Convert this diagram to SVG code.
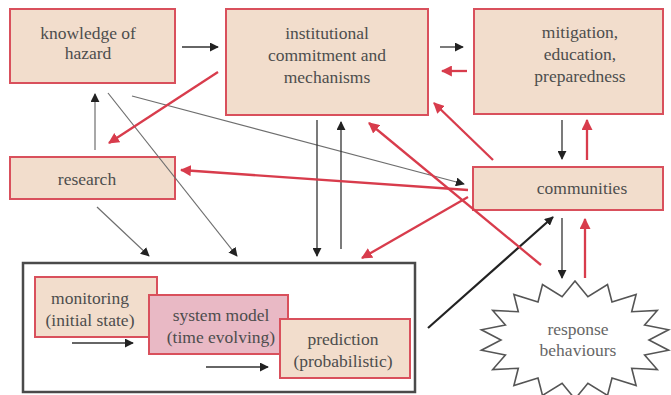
<svg xmlns="http://www.w3.org/2000/svg" width="671" height="395" viewBox="0 0 671 395">
  <defs>
    <style>
      .box { fill: #f2ddcc; stroke: #d9505c; stroke-width: 2; }
      .pink { fill: #e9b9c5; stroke: #d9505c; stroke-width: 2; }
      .frame { fill: #ffffff; stroke: #4a4a4a; stroke-width: 2.5; }
      .star { fill: #ffffff; stroke: #555555; stroke-width: 1.6; stroke-linejoin: miter; }
      text { font-family: 'Liberation Serif', 'Times New Roman', serif; font-size: 17.5px; fill: #4d4d4d; text-anchor: middle; }
      .soft { fill: #666666; }
      .k { stroke: #333333; stroke-width: 1.3; fill: none; }
      .g { stroke: #6e6e6e; stroke-width: 1.2; fill: none; }
      .lg { stroke: #a8a8a8; stroke-width: 2; fill: none; }
      .r { stroke: #d83c4c; stroke-width: 2.3; fill: none; }
      .kb { stroke: #222222; stroke-width: 2.2; fill: none; }
    </style>
    <marker id="ak" viewBox="0 0 10 10" refX="9" refY="5" markerWidth="9" markerHeight="9" markerUnits="userSpaceOnUse" orient="auto">
      <path d="M0,0 L10,5 L0,10 z" fill="#222222"/>
    </marker>
    <marker id="ar" viewBox="0 0 10 10" refX="9" refY="5" markerWidth="11" markerHeight="11" markerUnits="userSpaceOnUse" orient="auto">
      <path d="M0,0 L10,5 L0,10 z" fill="#d83c4c"/>
    </marker>
  </defs>

  <rect width="671" height="395" fill="#ffffff"/>

  <!-- modelling frame with its three stages -->
  <g id="modelling">
    <rect class="frame" x="23" y="263" width="392" height="129"/>
    <g id="monitoring">
      <rect class="box" x="35" y="277" width="122" height="60"/>
      <text x="90" y="304">monitoring</text>
      <text x="90" y="326">(initial state)</text>
    </g>
    <g id="system-model">
      <rect class="pink" x="149" y="295" width="139" height="59"/>
      <text x="221" y="321">system model</text>
      <text x="221" y="343">(time evolving)</text>
    </g>
    <g id="prediction">
      <rect class="box" x="280" y="319" width="130" height="59"/>
      <text x="343" y="345">prediction</text>
      <text x="343" y="367">(probabilistic)</text>
    </g>
  </g>

  <g id="knowledge">
    <rect class="box" x="10" y="9" width="165" height="74"/>
    <text x="88" y="39">knowledge of</text>
    <text x="88" y="59">hazard</text>
  </g>

  <g id="institutional">
    <rect class="box" x="226" y="9" width="202" height="106"/>
    <text x="327" y="39">institutional</text>
    <text x="327" y="61">commitment and</text>
    <text x="327" y="83">mechanisms</text>
  </g>

  <g id="mitigation">
    <rect class="box" x="474" y="9" width="189" height="105"/>
    <text x="580" y="38">mitigation,</text>
    <text x="580" y="60">education,</text>
    <text x="580" y="82">preparedness</text>
  </g>

  <g id="research">
    <rect class="box" x="10" y="157" width="165" height="42"/>
    <text x="87" y="185">research</text>
  </g>

  <g id="communities">
    <rect class="box" x="473" y="167" width="190" height="43"/>
    <text x="582" y="194">communities</text>
  </g>

  <g id="response">
    <polygon class="star" points="575,281 587.9,296.7 607.5,284.6 612,301.9 636.1,294.5 631.7,311.7 657.3,310.5 644.6,325 668.6,329.8 649,340 668.6,350.2 644.6,355 657.3,369.5 631.7,368.3 636.1,385.5 612,378.1 607.5,395.4 587.9,383.3 575,399 562.1,383.3 542.5,395.4 538,378.1 513.9,385.5 518.3,368.3 492.7,369.5 505.4,355 481.4,350.2 501,340 481.4,329.8 505.4,325 492.7,310.5 518.3,311.7 513.9,294.5 538,301.9 542.5,284.6 562.1,296.7"/>
    <text class="soft" x="578" y="335">response</text>
    <text class="soft" x="578" y="356">behaviours</text>
  </g>

  <g id="connectors">
    <!-- black / grey flows -->
    <line class="k" x1="182" y1="47" x2="218" y2="47" marker-end="url(#ak)"/>
    <line class="k" x1="440" y1="47" x2="463" y2="47" marker-end="url(#ak)"/>
    <line class="lg" x1="95" y1="150" x2="95" y2="94" marker-end="url(#ak)"/>
    <line class="g" x1="108" y1="93" x2="237" y2="256" marker-end="url(#ak)"/>
    <line class="g" x1="132" y1="96" x2="464" y2="184" marker-end="url(#ak)"/>
    <line class="g" x1="97" y1="207" x2="149" y2="256" marker-end="url(#ak)"/>
    <line class="k" x1="317" y1="120" x2="317" y2="256" marker-end="url(#ak)"/>
    <line class="k" x1="341" y1="249" x2="341" y2="122" marker-end="url(#ak)"/>
    <line class="k" x1="562" y1="120" x2="562" y2="159" marker-end="url(#ak)"/>
    <line class="k" x1="562" y1="218" x2="562" y2="278" marker-end="url(#ak)"/>
    <line class="kb" x1="428" y1="328" x2="553" y2="217" marker-end="url(#ak)"/>
    <line class="k" x1="72" y1="343" x2="133" y2="343" marker-end="url(#ak)"/>
    <line class="k" x1="206" y1="367" x2="268" y2="367" marker-end="url(#ak)"/>
    <!-- red feedbacks -->
    <line class="r" x1="467" y1="71" x2="442" y2="71" marker-end="url(#ar)"/>
    <line class="r" x1="218" y1="72" x2="109" y2="143" marker-end="url(#ar)"/>
    <line class="r" x1="468" y1="190" x2="181" y2="170" marker-end="url(#ar)"/>
    <line class="r" x1="468" y1="197" x2="362" y2="258" marker-end="url(#ar)"/>
    <line class="r" x1="493" y1="160" x2="434" y2="103" marker-end="url(#ar)"/>
    <line class="r" x1="541" y1="265" x2="369" y2="123" marker-end="url(#ar)"/>
    <line class="r" x1="587" y1="160" x2="587" y2="120" marker-end="url(#ar)"/>
    <line class="r" x1="585" y1="278" x2="585" y2="219" marker-end="url(#ar)"/>
  </g>
</svg>
